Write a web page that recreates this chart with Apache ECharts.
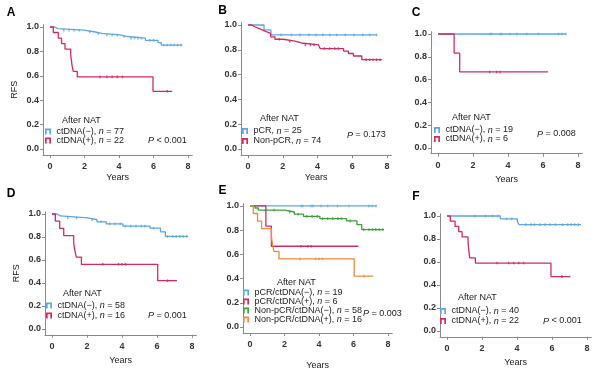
<!DOCTYPE html>
<html><head><meta charset="utf-8">
<script src="https://cdn.jsdelivr.net/npm/echarts@6/dist/echarts.min.js"></script>
<style>html,body{margin:0;padding:0;background:#fff}#c{width:600px;height:371px}</style>
</head><body><div id="c"></div>
<script>
// ---------- data ----------
const xTicks = [0, 2, 4, 6, 8];
const yTicks = [0, 0.2, 0.4, 0.6, 0.8, 1.0];
const panelLetters = ['A', 'B', 'C', 'D', 'E', 'F'];
const pValues = ['< 0.001', '= 0.173', '= 0.008', '= 0.001', '= 0.003', '< 0.001'];
const legendTitle = 'After NAT';

// Panel A
const aNegName = 'ctDNA(−), n = 77';
const aNegT = [0, 0.28, 0.45, 1.95, 2.55, 3.0, 4.05, 4.5, 5.53, 6.26, 6.45, 7.67];
const aNegS = [1, 0.987, 0.974, 0.961, 0.948, 0.935, 0.922, 0.909, 0.891, 0.872, 0.852, 0.852];
const aNegCens = [0.8, 1.1, 1.4, 1.7, 2.3, 2.8, 3.3, 3.6, 3.9, 4.3, 4.7, 4.9, 5.1, 5.3, 5.8, 6.0, 6.6, 6.8, 7.0, 7.2, 7.4, 7.6];
const aPosName = 'ctDNA(+), n = 22';
const aPosT = [0, 0.19, 0.48, 0.67, 0.87, 1.2, 1.24, 1.28, 1.35, 1.58, 5.97, 7.09];
const aPosS = [1, 0.955, 0.909, 0.864, 0.818, 0.773, 0.727, 0.682, 0.636, 0.591, 0.473, 0.473];
const aPosCens = [2.9, 3.3, 3.6, 3.9, 4.2, 6.8];

// Panel B
const bNegName = 'pCR, n = 25';
const bNegT = [0, 0.92, 1.32, 7.4];
const bNegS = [1, 0.96, 0.92, 0.92];
const bNegCens = [1.9, 2.5, 3.0, 3.5, 3.9, 4.3, 4.7, 5.1, 5.6, 6.1, 6.6, 7.0, 7.4];
const bPosName = 'Non-pCR, n = 74';
const bPosT = [0, 0.2, 0.4, 0.62, 0.85, 1.05, 1.3, 1.55, 2.02, 2.7, 3.08, 4.05, 4.15, 5.5, 5.78, 6.07, 6.55, 7.7];
const bPosS = [1, 0.986, 0.973, 0.959, 0.946, 0.932, 0.905, 0.885, 0.87, 0.855, 0.84, 0.825, 0.81, 0.79, 0.77, 0.75, 0.72, 0.72];
const bPosCens = [1.8, 2.4, 3.3, 3.6, 3.8, 4.4, 4.7, 5.0, 5.2, 6.8, 7.0, 7.2, 7.4, 7.6];

// Panel C (pCR subgroup)
const cNegName = 'ctDNA(−), n = 19';
const cNegT = [0, 7.31];
const cNegS = [1, 1];
const cNegCens = [2.97, 3.06, 3.54, 3.64, 4.11, 4.5, 5.07, 5.74, 6.89, 7.08, 7.31];
const cPosName = 'ctDNA(+), n = 6';
const cPosT = [0, 0.92, 1.24, 6.28];
const cPosS = [1, 0.833, 0.667, 0.667];
const cPosCens = [2.95, 3.35, 3.55];

// Panel D (non-pCR subgroup)
const dNegName = 'ctDNA(−), n = 58';
const dNegT = [0, 0.29, 0.48, 2.04, 2.57, 3.1, 4.05, 5.6, 6.2, 6.48, 7.77];
const dNegS = [1, 0.983, 0.966, 0.95, 0.932, 0.914, 0.895, 0.877, 0.845, 0.805, 0.805];
const dNegCens = [0.9, 1.4, 2.3, 2.8, 3.3, 3.6, 3.9, 4.2, 4.5, 4.8, 5.1, 5.3, 5.8, 6.6, 6.9, 7.1, 7.3, 7.5, 7.7];
const dPosName = 'ctDNA(+), n = 16';
const dPosT = [0, 0.19, 0.44, 0.67, 1.24, 1.3, 1.39, 1.68, 6.04, 7.14];
const dPosS = [1, 0.9375, 0.875, 0.8125, 0.75, 0.6875, 0.625, 0.5625, 0.42, 0.42];
const dPosCens = [2.9, 3.8, 4.0, 4.2, 6.6];

// Panel E (four groups = C and D groups)
const eNames = ['pCR/ctDNA(−), n = 19', 'pCR/ctDNA(+), n = 6', 'Non-pCR/ctDNA(−), n = 58', 'Non-pCR/ctDNA(+), n = 16'];

// Panel F
const fNegName = 'ctDNA(−), n = 40';
const fNegT = [0, 3.05, 4.02, 4.12, 7.66];
const fNegS = [1, 0.975, 0.95, 0.925, 0.925];
const fNegCens = [1.6, 2.2, 2.6, 2.9, 3.4, 3.7, 4.5, 4.8, 5.0, 5.3, 5.6, 5.9, 6.2, 6.6, 6.9, 7.1, 7.3, 7.5];
const fPosName = 'ctDNA(+), n = 22\u200b';
const fPosT = [0, 0.19, 0.46, 0.67, 0.86, 1.2, 1.23, 1.26, 1.3, 1.62, 5.94, 7.05];
const fPosS = [1, 0.955, 0.909, 0.864, 0.818, 0.773, 0.727, 0.682, 0.636, 0.591, 0.473, 0.473];
const fPosCens = [2.86, 3.52, 3.81, 4.1, 4.38, 6.57];

// ---------- styling / layout ----------
const FONT = '"Liberation Sans", Arial, Helvetica, sans-serif';
const BLUE = '#5ba7e3', RED = '#d42a5b', GREEN = '#3c9f3c', ORANGE = '#ef8a3d';
const TXT = '#1a1a1a', AX = '#8a8a8a';
const XMIN = -0.4, XMAX = 8.25, YMIN = -0.05, YMAX = 1.02;

// pixel anchors of x=0, x=8, y=1, y=0 for each panel
const layout = [
  {x0: 50, x8: 188, y1: 27, y0: 149, gap: 18, rfs: true,
   lab: [11, 12.5], after: [62, 121], leg: [45, 127, 0], p: [148, 140.7]},
  {x0: 248, x8: 387, y1: 25, y0: 149, gap: 18, rfs: false,
   lab: [222.5, 11], after: [260, 118.3], leg: [242, 126.5, 1], p: [347, 135]},
  {x0: 438, x8: 578, y1: 34, y0: 148, gap: 21, rfs: false,
   lab: [416, 12.5], after: [452, 118], leg: [434, 125.5, 0], p: [537, 134]},
  {x0: 52, x8: 192, y1: 214, y0: 329, gap: 21, rfs: true,
   lab: [11, 194], after: [63, 293.3], leg: [46, 301, 1], p: [148, 315.7]},
  {x0: 250, x8: 388, y1: 206, y0: 329, gap: 28, rfs: false,
   lab: [222.5, 191], after: [277, 282.7], leg: [243, 288, 0], p: [363, 313.3]},
  {x0: 447, x8: 587, y1: 216, y0: 331, gap: 21, rfs: false,
   lab: [416, 197], after: [458, 297.7], leg: [440, 306.5, 1], p: [543, 321]}
];

// curves per panel: [name, t, s, censored, color]
const curves = [
  [[aNegName, aNegT, aNegS, aNegCens, BLUE], [aPosName, aPosT, aPosS, aPosCens, RED]],
  [[bNegName, bNegT, bNegS, bNegCens, BLUE], [bPosName, bPosT, bPosS, bPosCens, RED]],
  [[cNegName, cNegT, cNegS, cNegCens, BLUE], [cPosName, cPosT, cPosS, cPosCens, RED]],
  [[dNegName, dNegT, dNegS, dNegCens, BLUE], [dPosName, dPosT, dPosS, dPosCens, RED]],
  [[eNames[0], cNegT, cNegS, cNegCens, BLUE], [eNames[1], cPosT, cPosS, cPosCens, RED],
   [eNames[2], dNegT, dNegS, dNegCens, GREEN], [eNames[3], dPosT, dPosS, dPosCens, ORANGE]],
  [[fNegName, fNegT, fNegS, fNegCens, BLUE], [fPosName, fPosT, fPosS, fPosCens, RED]]
];

function survAt(t, s, x) {
  let v = s[0];
  for (let i = 0; i < t.length; i++) if (t[i] <= x) v = s[i];
  return v;
}

const grids = [], xAxes = [], yAxes = [], series = [], legends = [], graphics = [];
layout.forEach((p, gi) => {
  const sx = (p.x8 - p.x0) / 8, u = p.y0 - p.y1;
  grids.push({left: p.x0 + XMIN * sx, top: p.y1 - (YMAX - 1) * u,
              width: (XMAX - XMIN) * sx, height: (YMAX - YMIN) * u});
  xAxes.push({
    gridIndex: gi, type: 'value', min: XMIN, max: XMAX,
    axisLine: {show: true, onZero: false, lineStyle: {color: AX, width: 1}},
    axisTick: {show: true, customValues: xTicks, length: 3, lineStyle: {color: AX}},
    axisLabel: {customValues: xTicks, fontSize: 9, fontWeight: 'bold', color: '#333', margin: 7, fontFamily: FONT},
    splitLine: {show: false},
    name: 'Years', nameLocation: 'middle', nameGap: p.gap,
    nameTextStyle: {fontSize: 9, color: TXT, fontFamily: FONT}
  });
  yAxes.push({
    gridIndex: gi, type: 'value', min: YMIN, max: YMAX,
    axisLine: {show: true, onZero: false, lineStyle: {color: AX, width: 1}},
    axisTick: {show: true, customValues: yTicks, length: 3, lineStyle: {color: AX}},
    axisLabel: {customValues: yTicks, fontSize: 9, fontWeight: 'bold', color: '#333', margin: 4, fontFamily: FONT,
                formatter: v => v.toFixed(1)},
    splitLine: {show: false},
    name: p.rfs ? 'RFS' : '', nameLocation: 'middle', nameGap: 24,
    nameTextStyle: {fontSize: 9, color: TXT, fontFamily: FONT}
  });
  const names = [];
  curves[gi].forEach(c => {
    const [name, t, s, cens, color] = c;
    names.push(name);
    series.push({
      type: 'line', name, xAxisIndex: gi, yAxisIndex: gi, step: 'end',
      symbol: 'none', showSymbol: false, animation: false, silent: true,
      data: t.map((x, i) => [x, s[i]]),
      lineStyle: {color, width: 1.3}, itemStyle: {color}
    });
    series.push({
      type: 'scatter', name: name + ' cens', xAxisIndex: gi, yAxisIndex: gi,
      symbol: 'rect', symbolSize: [1.4, 2.6], animation: false, silent: true,
      data: cens.map(x => [x, survAt(t, s, x)]),
      itemStyle: {color}
    });
  });
  legends.push({
    orient: 'vertical', left: p.leg[0], top: p.leg[1], itemGap: p.leg[2],
    itemWidth: 7, itemHeight: 6, padding: 0, selectedMode: false,
    icon: 'path://M0,10V0H10V10H7.2V2.8H2.8V10Z',
    itemStyle: {borderWidth: 0},
    data: names,
    formatter: n => n.replace('\u200b', '').replace(', n = ', ', {i|n} = '),
    textStyle: {fontSize: 9, color: TXT, fontFamily: FONT,
                rich: {i: {fontStyle: 'italic', fontSize: 9, color: TXT, fontFamily: FONT}}}
  });
  graphics.push({type: 'text', x: p.lab[0], y: p.lab[1], silent: true,
    style: {text: panelLetters[gi], fill: '#000', font: 'bold 12px ' + FONT, align: 'center', verticalAlign: 'middle'}});
  graphics.push({type: 'text', x: p.after[0], y: p.after[1], silent: true,
    style: {text: legendTitle, fill: TXT, font: '9px ' + FONT, align: 'left', verticalAlign: 'middle'}});
  graphics.push({type: 'text', x: p.p[0], y: p.p[1], silent: true,
    style: {text: '{i|P} ' + pValues[gi], fill: TXT, font: '9px ' + FONT, align: 'left', verticalAlign: 'middle',
            rich: {i: {fontStyle: 'italic', fontSize: 9, fill: TXT, fontFamily: FONT}}}});
});

const chart = echarts.init(document.getElementById('c'), null, {renderer: 'canvas'});
chart.setOption({
  backgroundColor: '#fff',
  animation: false,
  grid: grids, xAxis: xAxes, yAxis: yAxes,
  series, legend: legends, graphic: graphics
});
</script></body></html>
